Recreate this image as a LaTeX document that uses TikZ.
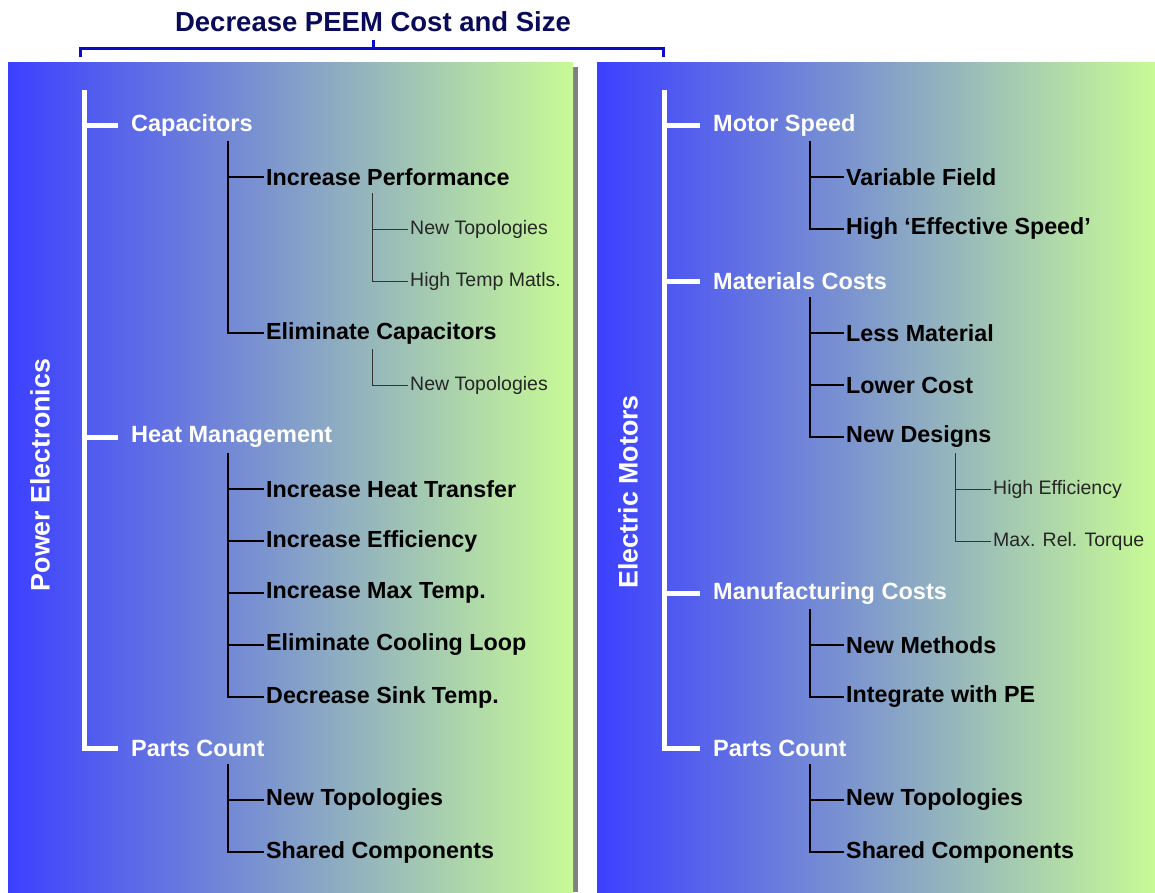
\documentclass[tikz,border=0pt]{standalone}
\usepackage{fontspec}
\setmainfont{Liberation Sans}
\definecolor{panelblue}{RGB}{60,64,255}
\definecolor{panelmid}{RGB}{140,182,200}
\definecolor{panelgreen}{RGB}{200,250,150}
\definecolor{bracketblue}{RGB}{10,10,200}
\definecolor{titlenavy}{RGB}{10,10,90}
\definecolor{shadowgray}{RGB}{128,128,128}

\begin{document}
\begin{tikzpicture}[x=1pt,y=-1pt,
  toplabel/.style={anchor=west, text=white, font=\fontsize{23.5}{27}\selectfont\bfseries, inner sep=2pt},
  midlabel/.style={anchor=west, text=black, font=\fontsize{23.3}{27}\selectfont\bfseries, inner sep=2pt},
  lowlabel/.style={anchor=west, text=black!85, font=\fontsize{19.5}{23}\selectfont, inner sep=2pt},
  trunk/.style={draw=white, line width=5pt},
  branch/.style={draw=black, line width=1.8pt},
  twig/.style={draw=black!80, line width=0.9pt},
  sidelabel/.style={rotate=90, text=white, font=\fontsize{26.8}{30}\selectfont\bfseries}]

% Bounding box
\useasboundingbox (0,0) rectangle (1155,892);

% Panels
\fill[shadowgray] (573,67) rectangle (578,892);
\shade[left color=panelblue, middle color=panelmid, right color=panelgreen] (8,62) rectangle (573,892);
\shade[left color=panelblue, middle color=panelmid, right color=panelgreen] (597,62) rectangle (1155,892);

% Title and bracket
\node[text=titlenavy, font=\fontsize{27.5}{31}\selectfont\bfseries] (title) at (373,22) {Decrease PEEM Cost and Size};
\coordinate (brace) at (373,48);
\draw[bracketblue, line width=3pt] (80,57) -- (80,48) -- (663,48) -- (663,57);
\draw[bracketblue, line width=3pt] (brace) -- ++(0,-8);

% Side labels
\node[sidelabel] (pe) at (40,475) {Power Electronics};
\node[sidelabel] (em) at (628,492) {Electric Motors};

% ---------------- Power Electronics ----------------
\node[toplabel] (cap) at (129,125) {Capacitors};
\node[toplabel] (heat) at (129,437) {Heat Management};
\node[toplabel] (lparts) at (129,748) {Parts Count};

\coordinate (ltop) at (84,90);
\draw[trunk] (ltop) |- ([xshift=-11]lparts.west);
\foreach \n in {cap,heat}
  \draw[trunk] (ltop |- \n.west) -- ([xshift=-11]\n.west);

% Capacitors
\node[midlabel] (perf) at (264,177) {Increase Performance};
\node[midlabel] (elim) at (264,333) {Eliminate Capacitors};
\coordinate (capv) at (228,141);
\foreach \c in {perf,elim}
  \draw[branch] (capv) |- (\c.west);

\node[lowlabel] (perftopo) at (408,229) {New Topologies};
\node[lowlabel] (hitemp) at (408,281) {High Temp Matls.};
\coordinate (perfv) at (372,193);
\foreach \c in {perftopo,hitemp}
  \draw[twig] (perfv) |- (\c.west);

\node[lowlabel] (elimtopo) at (408,385) {New Topologies};
\coordinate (elimv) at (372,349);
\draw[twig] (elimv) |- (elimtopo.west);

% Heat Management
\node[midlabel] (transfer) at (264,489) {Increase Heat Transfer};
\node[midlabel] (effic) at (264,541) {Increase Efficiency};
\node[midlabel] (maxtemp) at (264,593) {Increase Max Temp.};
\node[midlabel] (loop) at (264,645) {Eliminate Cooling Loop};
\node[midlabel] (sink) at (264,697) {Decrease Sink Temp.};
\coordinate (heatv) at (228,453);
\foreach \c in {transfer,effic,maxtemp,loop,sink}
  \draw[branch] (heatv) |- (\c.west);

% Parts Count
\node[midlabel] (ltopo) at (264,800) {New Topologies};
\node[midlabel] (lshared) at (264,852) {Shared Components};
\coordinate (lpartsv) at (228,764);
\foreach \c in {ltopo,lshared}
  \draw[branch] (lpartsv) |- (\c.west);

% ---------------- Electric Motors ----------------
\node[toplabel] (speed) at (711,125) {Motor Speed};
\node[toplabel] (matl) at (711,281) {Materials Costs};
\node[toplabel] (manuf) at (711,593) {Manufacturing Costs};
\node[toplabel] (rparts) at (711,748) {Parts Count};

\coordinate (rtop) at (664,90);
\draw[trunk] (rtop) |- ([xshift=-11]rparts.west);
\foreach \n in {speed,matl,manuf}
  \draw[trunk] (rtop |- \n.west) -- ([xshift=-11]\n.west);

% Motor Speed
\node[midlabel] (field) at (844,177) {Variable Field};
\node[midlabel] (effspeed) at (844,229) {High ‘Effective Speed’};
\coordinate (speedv) at (810,141);
\foreach \c in {field,effspeed}
  \draw[branch] (speedv) |- (\c.west);

% Materials Costs
\node[midlabel] (less) at (844,333) {Less Material};
\node[midlabel] (lower) at (844,385) {Lower Cost};
\node[midlabel] (designs) at (844,437) {New Designs};
\coordinate (matlv) at (810,297);
\foreach \c in {less,lower,designs}
  \draw[branch] (matlv) |- (\c.west);

\node[lowlabel] (hieff) at (991,489) {High Efficiency};
\node[lowlabel] (torque) at (991,541) {Max. Rel. Torque};
\coordinate (designsv) at (955,453);
\foreach \c in {hieff,torque}
  \draw[twig] (designsv) |- (\c.west);

% Manufacturing Costs
\node[midlabel] (methods) at (844,645) {New Methods};
\node[midlabel] (integ) at (844,697) {Integrate with PE};
\coordinate (manufv) at (810,609);
\foreach \c in {methods,integ}
  \draw[branch] (manufv) |- (\c.west);

% Parts Count
\node[midlabel] (rtopo) at (844,800) {New Topologies};
\node[midlabel] (rshared) at (844,852) {Shared Components};
\coordinate (rpartsv) at (810,764);
\foreach \c in {rtopo,rshared}
  \draw[branch] (rpartsv) |- (\c.west);

\end{tikzpicture}
\end{document}
